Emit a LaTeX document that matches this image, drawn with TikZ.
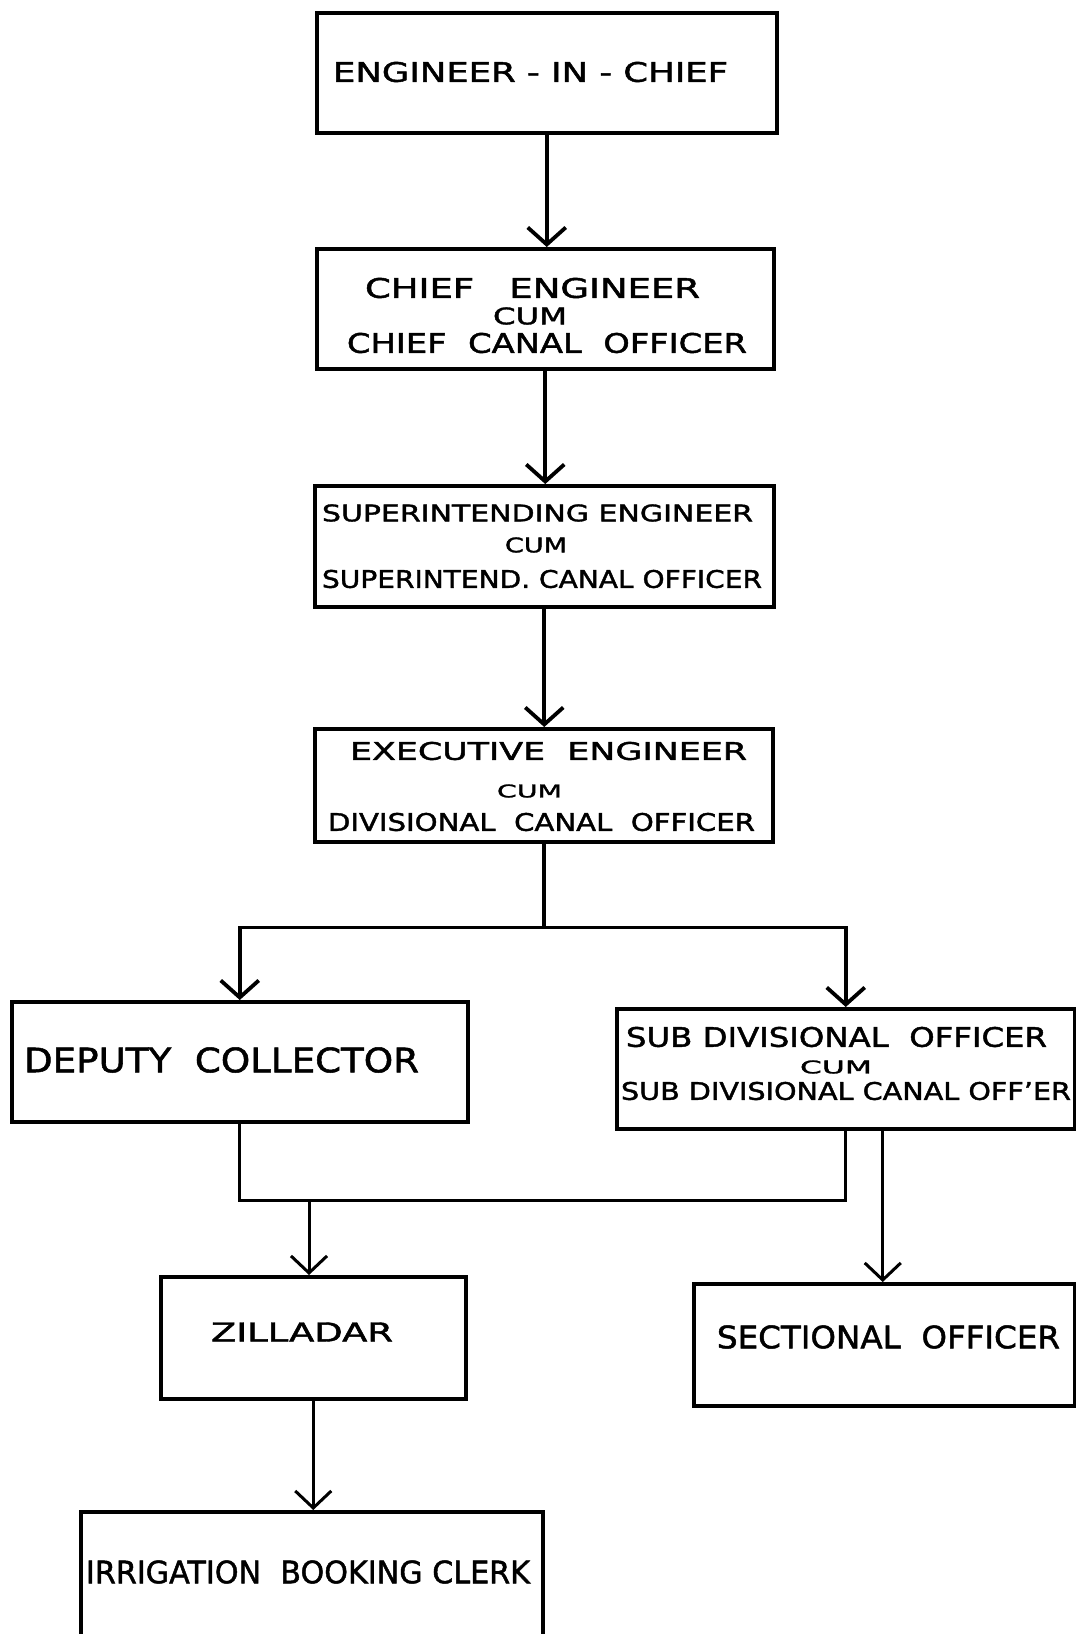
\documentclass[tikz,border=0pt]{standalone}
\usepackage{fontspec}
\setmainfont{DejaVu Sans}
\newfontfamily\lettering[FakeBold=1.5,Ligatures=TeX]{DejaVu Sans}
\usepackage{graphicx}
\usetikzlibrary{arrows.meta}
% one lettered line, stretched to a given width and cap height
\newcommand{\fitline}[3]{\resizebox{#1pt}{#2pt}{\lettering #3}}
\begin{document}
\begin{tikzpicture}[x=1pt,y=-1pt,
  box/.style={draw, line width=3.5pt, rectangle, inner sep=0pt, anchor=north west},
  lbl/.style={inner sep=0pt, anchor=center},
  link/.style={line width=3.8pt, line join=miter},
  thin link/.style={line width=3pt, line join=miter},
  arr/.style={link, -{Straight Barb[length=17pt,width=38pt]}},
  thin arr/.style={thin link, -{Straight Barb[length=17pt,width=36pt]}}]

\useasboundingbox (0,0) rectangle (1076,1634);
\clip (0,0) rectangle (1076,1634);

% offices
\node[box, minimum width=460pt, minimum height=120pt] (eic) at (315,11) {};
\node[box, minimum width=457pt, minimum height=120pt] (ce)  at (315,247) {};
\node[box, minimum width=459pt, minimum height=121pt] (se)  at (313,484) {};
\node[box, minimum width=458pt, minimum height=113pt] (ee)  at (313,727) {};
\node[box, minimum width=456pt, minimum height=120pt] (dc)  at (10,1000) {};
\node[box, minimum width=458pt, minimum height=120pt] (sdo) at (615,1007) {};
\node[box, minimum width=305pt, minimum height=122pt] (zil) at (159,1275) {};
\node[box, minimum width=381pt, minimum height=122pt] (so)  at (692,1282) {};
\node[box, minimum width=462pt, minimum height=160pt] (ibc) at (79,1510) {};

% titles
\node[lbl] (t-eic) at (530.5,72) {\fitline{395}{20}{ENGINEER - IN - CHIEF}};

\node[lbl] (t-ce-a) at (532.5,288) {\fitline{335}{20}{CHIEF\ \ \ ENGINEER}};
\node[lbl] (t-ce-b) at (530,316)   {\fitline{74}{17}{CUM}};
\node[lbl] (t-ce-c) at (547,343)   {\fitline{400}{20}{CHIEF\ \ CANAL\ \ OFFICER}};

\node[lbl] (t-se-a) at (537.5,513) {\fitline{431}{17}{SUPERINTENDING ENGINEER}};
\node[lbl] (t-se-b) at (536,545)   {\fitline{62}{15}{CUM}};
\node[lbl] (t-se-c) at (542,579)   {\fitline{440}{18}{SUPERINTEND. CANAL OFFICER}};

\node[lbl] (t-ee-a) at (548.5,751) {\fitline{397}{18}{EXECUTIVE\ \ ENGINEER}};
\node[lbl] (t-ee-b) at (529.5,791) {\fitline{65}{13}{CUM}};
\node[lbl] (t-ee-c) at (541.5,822) {\fitline{427}{18}{DIVISIONAL\ \ CANAL\ \ OFFICER}};

\node[lbl] (t-dc) at (221.5,1060) {\fitline{395}{25}{DEPUTY\ \ COLLECTOR}};

\node[lbl] (t-sdo-a) at (836.5,1037) {\fitline{421}{20}{SUB DIVISIONAL\ \ OFFICER}};
\node[lbl] (t-sdo-b) at (836,1067)   {\fitline{72}{13}{CUM}};
\node[lbl] (t-sdo-c) at (846,1091)   {\fitline{450}{18}{SUB DIVISIONAL CANAL OFF’ER}};

\node[lbl] (t-zil) at (302,1332)  {\fitline{182}{19}{ZILLADAR}};
\node[lbl] (t-so)  at (888.5,1337){\fitline{343}{23}{SECTIONAL\ \ OFFICER}};
\node[lbl] (t-ibc) at (308,1572)  {\fitline{444}{23}{IRRIGATION\ \ BOOKING CLERK}};

% chain of command
\draw[arr] (eic.south) -- (eic.south |- ce.north);
\draw[arr] (ce.south) -- (ce.south |- se.north);
\draw[arr] (se.south) -- (se.south |- ee.north);

% split below the executive engineer
\path (ee.south) ++(0,84) coordinate (split);
\draw[link] (ee.south) -- (split);
\draw[arr] (split) -| (dc.north);
\draw[arr] (split) -| (sdo.north);

% deputy collector and sub divisional officer both over the zilladar
\coordinate (merge) at (309,1200);
\draw[thin link] (dc.south) |- (sdo.south |- merge) -- (sdo.south);
\draw[thin arr] (merge) -- (merge |- zil.north);

% sub divisional officer over the sectional officer
\draw[thin arr] ([xshift=37pt]sdo.south) -- ([xshift=37pt]sdo.south |- so.north);

% zilladar over the booking clerk
\draw[thin arr] (zil.south) -- (zil.south |- ibc.north);
\end{tikzpicture}
\end{document}
